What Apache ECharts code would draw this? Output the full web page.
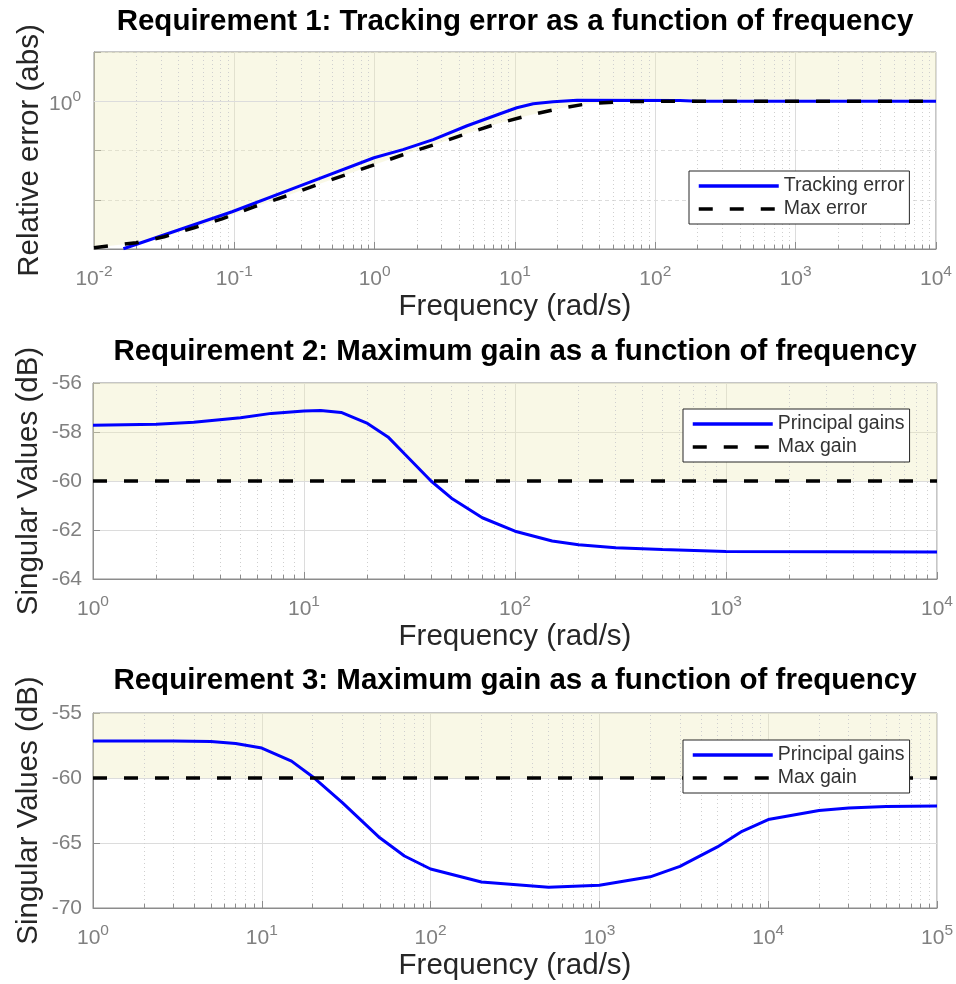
<!DOCTYPE html>
<html><head><meta charset="utf-8">
<script src="https://cdn.jsdelivr.net/npm/echarts@6/dist/echarts.min.js"></script>
<style>html,body{margin:0;padding:0;background:#fff}#c{width:956px;height:984px}</style>
</head><body><div id="c"></div>
<script>
// ---------- data ----------
const titles = [
  'Requirement 1: Tracking error as a function of frequency',
  'Requirement 2: Maximum gain as a function of frequency',
  'Requirement 3: Maximum gain as a function of frequency'
];
const xLabel = 'Frequency (rad/s)';
const yLabels = ['Relative error (abs)', 'Singular Values (dB)', 'Singular Values (dB)'];
const legend1 = ['Tracking error', 'Max error'];
const legend2 = ['Principal gains', 'Max gain'];

// Requirement 1 (log-log)
const freq1Track = [0.0162, 0.0964, 0.294, 0.99, 1.59, 2.61, 4.56, 7.83, 10.3, 13.5, 18.7, 27.7, 150, 200, 10000];
const track1     = [0.00101, 0.0057, 0.0192, 0.0713, 0.104, 0.166, 0.318, 0.557, 0.738, 0.889, 0.977, 1.047, 1.04, 1.0, 1.0];
const freq1Max   = [0.01, 0.02, 0.0316, 0.0516, 0.0817, 0.138, 0.226, 0.37, 1.59, 2.79, 4.27, 7.45, 12.2, 20.3, 32.7, 56.1, 96.4, 10000];
const max1       = [0.00106, 0.00134, 0.00177, 0.0027, 0.0041, 0.0072, 0.0115, 0.0192, 0.082, 0.137, 0.209, 0.349, 0.508, 0.705, 0.889, 0.977, 1.0, 1.0];

// Requirement 2 (dB)
const freq2 = [1, 2, 3, 5, 7, 10, 12, 15, 20, 25, 30, 40, 50, 70, 100, 150, 200, 300, 500, 1000, 10000];
const gain2 = [-57.72, -57.68, -57.6, -57.42, -57.24, -57.14, -57.12, -57.2, -57.65, -58.2, -58.9, -60.0, -60.7, -61.5, -62.05, -62.45, -62.6, -62.72, -62.8, -62.88, -62.9];
const maxGain2 = -60;

// Requirement 3 (dB)
const freq3 = [1, 3, 5, 7, 10, 15, 20, 30, 50, 70, 100, 200, 500, 1000, 2000, 3000, 5000, 7000, 10000, 20000, 30000, 50000, 100000];
const gain3 = [-57.15, -57.15, -57.2, -57.35, -57.7, -58.7, -59.9, -61.9, -64.6, -66.0, -67.0, -68.0, -68.4, -68.25, -67.6, -66.8, -65.3, -64.1, -63.2, -62.5, -62.3, -62.2, -62.15];
const maxGain3 = -60;

// axis ranges
const xRanges = [[0.01, 10000], [1, 10000], [1, 100000]];
const yRanges = [[0.001, 10], [-64, -56], [-70, -55]];
const yIntervals = [null, 2, 5];

// ---------- styling / layout ----------
const FONT = '"Liberation Sans", Arial, Helvetica, sans-serif';
const LABEL_GRAY = '#808080';
const AXIS_GRAY = '#8c8c8c';
const GRID_MAJOR = '#dcdcdc';
const GRID_MINOR = '#cfcfcf';
const FILL = 'rgba(237,234,184,0.5)';
const BLUE = '#0000ff';
const grids = [
  {left: 94, top: 52, width: 842, height: 197},
  {left: 93, top: 383, width: 844, height: 196},
  {left: 93, top: 713, width: 845, height: 195}
];
const titleY = [22, 352, 681];
const legendPos = [{left: 689, top: 171}, {left: 683, top: 409}, {left: 683, top: 740}];

const zip = (a, b) => a.map((v, i) => [v, b[i]]);
const rich = {
  b: {fontSize: 21, lineHeight: 26, verticalAlign: 'bottom', color: LABEL_GRAY, fontFamily: FONT},
  s: {fontSize: 15.5, lineHeight: 15, verticalAlign: 'top', color: LABEL_GRAY, fontFamily: FONT}
};
const supLabel = v => '{b|10}{s|' + Math.round(Math.log10(v)) + '}';

function minorValues(lo, hi) {
  const out = [];
  for (let k = Math.round(Math.log10(lo)); k < Math.round(Math.log10(hi)); k++) {
    for (let m = 2; m <= 9; m++) out.push(m * Math.pow(10, k));
  }
  return out;
}

function gridMarks(i) {
  const [x0, x1] = xRanges[i];
  const [y0, y1] = yRanges[i];
  const data = [];
  const mins = minorValues(x0, x1);
  mins.forEach(v => data.push({xAxis: v, lineStyle: {color: GRID_MINOR, type: [1, 3], width: 1}}));
  // minor tick marks on the bottom edge
  const tickTop = i === 0 ? y0 * Math.pow(10, 4 / 49.25) : y0 + (y1 - y0) * 4 / grids[i].height;
  mins.forEach(v => data.push([{coord: [v, y0], lineStyle: {color: AXIS_GRAY, type: 'solid', width: 1}}, {coord: [v, tickTop]}]));
  if (i === 0) data.push({yAxis: 1, lineStyle: {color: GRID_MAJOR, type: 'solid', width: 1}});
  return {
    silent: true, symbol: ['none', 'none'], z: 2, animation: false,
    label: {show: false}, emphasis: {disabled: true},
    data
  };
}

const NAME_SIZE = 29.5;
const xAxes = grids.map((g, i) => ({
  type: 'log', logBase: 10, gridIndex: i, min: xRanges[i][0], max: xRanges[i][1],
  axisLine: {show: true, onZero: false, lineStyle: {color: AXIS_GRAY, width: 1}},
  axisTick: {show: true, inside: true, length: 7, lineStyle: {color: AXIS_GRAY}},
  axisLabel: {formatter: supLabel, margin: 15, rich, interval: 0, showMinLabel: true, showMaxLabel: true, hideOverlap: false},
  splitLine: {show: true, lineStyle: {color: GRID_MAJOR, width: 1}},
  name: xLabel, nameLocation: 'middle', nameGap: 43, nameMoveOverlap: false,
  nameTextStyle: {fontSize: NAME_SIZE, color: '#262626', fontFamily: FONT}
}));

const yAxes = grids.map((g, i) => {
  const base = {
    gridIndex: i, min: yRanges[i][0], max: yRanges[i][1],
    axisLine: {show: true, onZero: false, lineStyle: {color: AXIS_GRAY, width: 1}},
    axisTick: {show: true, inside: true, length: 7, lineStyle: {color: AXIS_GRAY}},
    name: yLabels[i], nameLocation: 'middle', nameGap: 49, nameRotate: 90, nameMoveOverlap: false,
    nameTextStyle: {fontSize: NAME_SIZE, color: '#262626', fontFamily: FONT}
  };
  if (i === 0) {
    return Object.assign(base, {
      type: 'log', logBase: 10,
      axisLabel: {formatter: v => (Math.abs(v - 1) < 1e-9 ? '{b|10}{s|0}' : ''), margin: 13, rich},
      splitLine: {show: true, lineStyle: {color: GRID_MAJOR, type: [4, 3], width: 1}}
    });
  }
  return Object.assign(base, {
    type: 'value', interval: yIntervals[i],
    axisLabel: {fontSize: 21, color: LABEL_GRAY, fontFamily: FONT, margin: 11},
    splitLine: {show: true, lineStyle: {color: GRID_MAJOR, width: 1}}
  });
});

const dashStyle = {color: '#000', width: 3.5, type: [14, 17]};
const series = [];
// Requirement 1
series.push({type: 'line', xAxisIndex: 0, yAxisIndex: 0, data: zip(freq1Max, max1), symbol: 'none', z: 1, silent: true,
  lineStyle: {opacity: 0}, areaStyle: {origin: 'end', color: FILL}, markLine: gridMarks(0)});
series.push({name: legend1[0], type: 'line', xAxisIndex: 0, yAxisIndex: 0, data: zip(freq1Track, track1), symbol: 'none', z: 3,
  lineStyle: {color: BLUE, width: 3}, itemStyle: {color: BLUE}});
series.push({name: legend1[1], type: 'line', xAxisIndex: 0, yAxisIndex: 0, data: zip(freq1Max, max1), symbol: 'none', z: 4,
  lineStyle: dashStyle, itemStyle: {color: '#000'}});
// Requirement 2
const limit2 = [[xRanges[1][0], maxGain2], [xRanges[1][1], maxGain2]];
series.push({type: 'line', xAxisIndex: 1, yAxisIndex: 1, data: limit2, symbol: 'none', z: 1, silent: true,
  lineStyle: {opacity: 0}, areaStyle: {origin: 'end', color: FILL}, markLine: gridMarks(1)});
series.push({name: legend2[0], type: 'line', xAxisIndex: 1, yAxisIndex: 1, data: zip(freq2, gain2), symbol: 'none', z: 3,
  lineStyle: {color: BLUE, width: 3}, itemStyle: {color: BLUE}});
series.push({name: legend2[1], type: 'line', xAxisIndex: 1, yAxisIndex: 1, data: limit2, symbol: 'none', z: 4,
  lineStyle: dashStyle, itemStyle: {color: '#000'}});
// Requirement 3
const limit3 = [[xRanges[2][0], maxGain3], [xRanges[2][1], maxGain3]];
series.push({type: 'line', xAxisIndex: 2, yAxisIndex: 2, data: limit3, symbol: 'none', z: 1, silent: true,
  lineStyle: {opacity: 0}, areaStyle: {origin: 'end', color: FILL}, markLine: gridMarks(2)});
series.push({name: legend2[0], type: 'line', xAxisIndex: 2, yAxisIndex: 2, data: zip(freq3, gain3), symbol: 'none', z: 3,
  lineStyle: {color: BLUE, width: 3}, itemStyle: {color: BLUE}});
series.push({name: legend2[1], type: 'line', xAxisIndex: 2, yAxisIndex: 2, data: limit3, symbol: 'none', z: 4,
  lineStyle: dashStyle, itemStyle: {color: '#000'}});

const legends = [legend1, legend2, legend2].map((names, i) => ({
  data: names, orient: 'vertical', left: legendPos[i].left, top: legendPos[i].top,
  itemWidth: 80, itemHeight: 14, itemGap: 3, itemTextGap: 5, padding: [5, 5, 5, 8],
  backgroundColor: '#fff', borderColor: '#262626', borderWidth: 1, borderRadius: 0,
  itemStyle: {opacity: 0, borderWidth: 0},
  lineStyle: {width: 3.5},
  textStyle: {fontSize: 19.5, color: '#333', fontFamily: FONT}, selectedMode: false, z: 10
}));

const graphic = titles.map((t, i) => ({
  type: 'text', x: 515, y: titleY[i], z: 10,
  style: {text: t, font: 'bold 29.5px ' + FONT, fill: '#000', textAlign: 'center', textVerticalAlign: 'middle', align: 'center', verticalAlign: 'middle'}
}));

const chart = echarts.init(document.getElementById('c'), null, {renderer: 'canvas'});
chart.setOption({
  animation: false,
  backgroundColor: '#fff',
  grid: grids.map(g => Object.assign({show: true, borderColor: AXIS_GRAY, borderWidth: 1, backgroundColor: 'transparent', containLabel: false}, g)),
  xAxis: xAxes,
  yAxis: yAxes,
  legend: legends,
  graphic,
  series
});
</script></body></html>
